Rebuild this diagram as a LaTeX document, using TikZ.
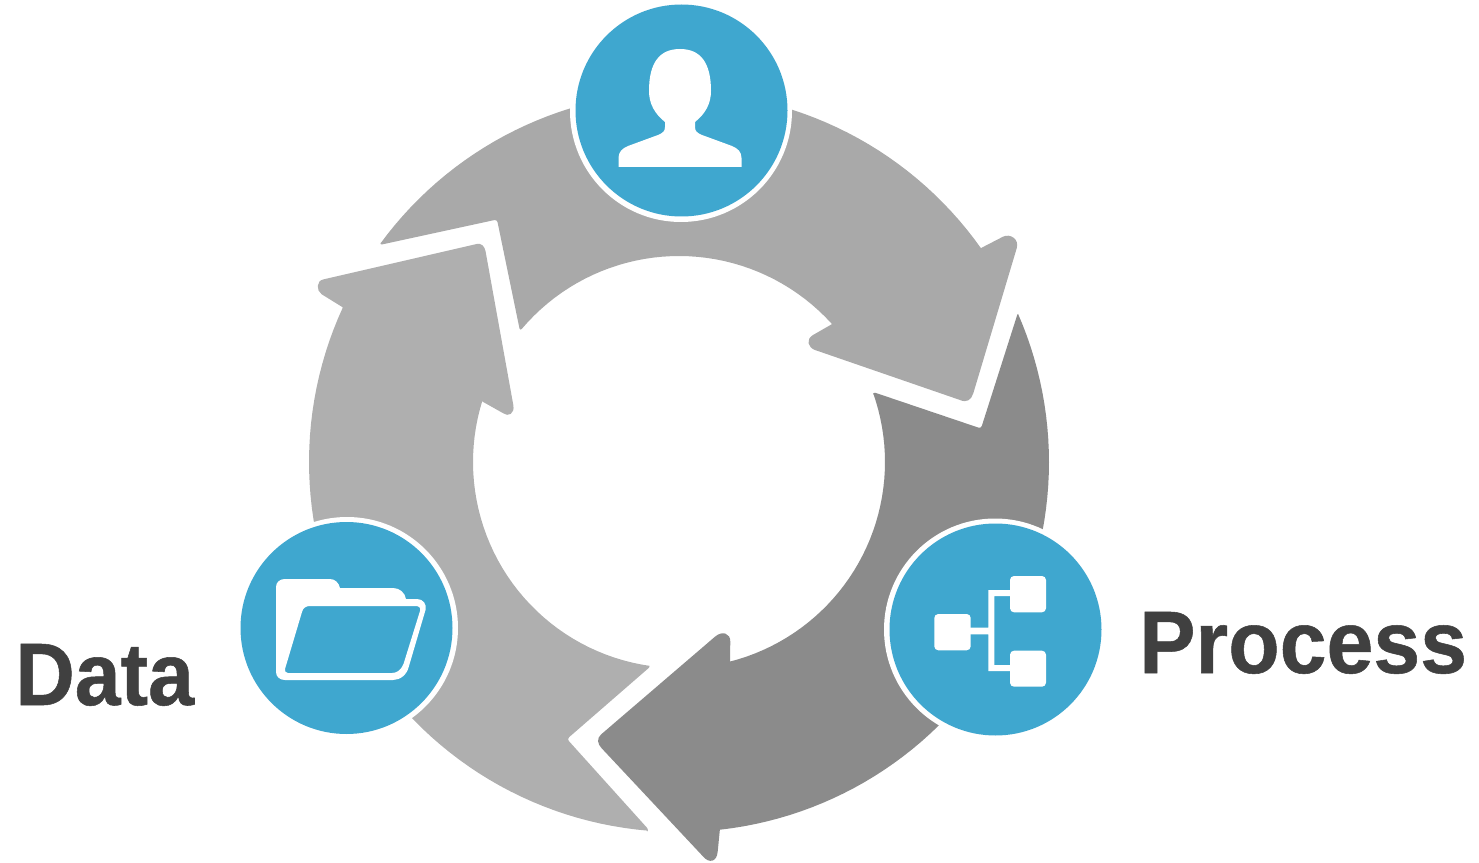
\documentclass[tikz,border=0pt]{standalone}
\usepackage{fontspec}
\setmainfont{Liberation Sans}
\definecolor{blueicon}{HTML}{3FA7CF}
\definecolor{arrowA}{HTML}{A9A9A9}
\definecolor{arrowB}{HTML}{8B8B8B}
\definecolor{arrowC}{HTML}{AFAFAF}
\definecolor{labeltext}{HTML}{404040}
\tikzset{
  ring/.style={circle,fill=white,minimum size=166.5pt,inner sep=0pt},
  disc/.style={circle,fill=blueicon,minimum size=159pt,inner sep=0pt},
  biglabel/.style={anchor=base west,inner sep=0pt,text=labeltext,font=\fontsize{66.5pt}{72pt}\selectfont\bfseries},
  icon/.style={fill=white,draw=none},
}
\begin{document}
\begin{tikzpicture}[x=0.75pt,y=-0.75pt]
\useasboundingbox (0,0) rectangle (1479,863);
% top arrow
\fill[arrowA]
  plot[domain=143.8:35.3,samples=60] ({679+370*cos(\x)},{462-370*sin(\x)})
  -- (981.7,247.7) -- (1003,236.7) .. controls (1010,233.2) and (1019.5,239) .. (1016.7,248.3)
  -- (973.3,393.3) .. controls (971,400) and (967,403) .. (960,400)
  -- (815,350) .. controls (808,347.5) and (805.5,339.5) .. (813,335) -- (831.7,324.3)
  -- plot[domain=42.3:139.7,samples=40] ({679+206*cos(\x)},{462-206*sin(\x)})
  [rounded corners=2pt] -- (520,331) -- (497,219.5) -- (379.5,245) [sharp corners] -- cycle;
% right arrow
\fill[arrowB]
  plot[domain=23.6:-83.6,samples=60] ({679+370*cos(\x)},{462-370*sin(\x)})
  -- (720,828.3) -- (717.7,851.5) .. controls (717,862) and (709,863.5) .. (703.3,856.7)
  -- (601.7,748.3) .. controls (597.5,744) and (596.5,738.5) .. (601,734.5)
  -- (715,636.7) .. controls (722,630.5) and (730.5,633) .. (730.3,641.7) -- (730,660.7)
  -- plot[domain=-75.6:19.5,samples=40] ({679+206*cos(\x)},{462-206*sin(\x)})
  [rounded corners=2pt] -- (873,392) -- (981,428.5) -- (1018,312.5) [sharp corners] -- cycle;
% left arrow
\fill[arrowC]
  plot[domain=265.2:155.4,samples=60] ({679+370*cos(\x)},{462-370*sin(\x)})
  -- (342.7,307.3) -- (321.7,294.3) .. controls (316,290.5) and (316.5,281) .. (323,279.5)
  -- (476.7,244) .. controls (481,243) and (484.5,246) .. (485.5,251)
  -- (513.3,405) .. controls (515,414) and (508,417) .. (503.3,413.3) -- (482.7,401.7)
  -- plot[domain=162.7:261.9,samples=40] ({679+206*cos(\x)},{462-206*sin(\x)})
  [rounded corners=2pt] -- (651,666) -- (567,739) -- (649,830) [sharp corners] -- cycle;
% discs
\node[ring] (ringT) at (681,111) {};
\node[disc] (discT) at (681.5,110.5) {};
\node[ring] (ringL) at (347,628) {};
\node[disc] (discL) at (346.5,628) {};
\node[ring] (ringR) at (995,629.5) {};
\node[disc] (discR) at (995.5,629.5) {};
% person
\fill[icon] (618.5,167) -- (618.5,158) .. controls (618.5,152) and (622,148.5) .. (628,146)
  -- (658,135) .. controls (663,133) and (665,131) .. (665,127) -- (665,122)
  .. controls (655,114) and (649,104) .. (649,91)
  .. controls (649,62) and (660,49) .. (680,49)
  .. controls (700,49) and (711,62) .. (711,91)
  .. controls (711,104) and (705,114) .. (695,122) -- (695,127)
  .. controls (695,131) and (697,133) .. (702,135)
  -- (732,146) .. controls (738,148.5) and (741.5,152) .. (741.5,158)
  -- (741.5,167) -- cycle;
% folder
\fill[icon,even odd rule]
  (276,587) .. controls (276,582) and (280,579) .. (285,579) -- (330,579)
  .. controls (335,579) and (339,583) .. (340,588) -- (393,588)
  .. controls (400,588) and (405,593) .. (406,599) -- (417,599)
  .. controls (423,599) and (427,604) .. (425.5,610) -- (409,666)
  .. controls (407,675) and (400,680) .. (393,680) -- (285,680)
  .. controls (280,680) and (276,677) .. (276,672) -- cycle
  (302,612) .. controls (303,608) and (306,606) .. (310,606) -- (416,606)
  .. controls (419,606) and (421,608) .. (420,611) -- (403.5,664)
  .. controls (401,670) and (397,673) .. (392,673) -- (288,673)
  .. controls (285.5,673) and (284.5,671) .. (285,669) -- cycle;
% process
\fill[icon,rounded corners=3pt] (934.3,614) rectangle (970.7,650.3);
\fill[icon,rounded corners=3pt] (1010,576) rectangle (1046,612.3);
\fill[icon,rounded corners=3pt] (1010,650.7) rectangle (1046,686.7);
\fill[icon] (968,627.7) -- (988.3,627.7) -- (988.3,590) -- (1012,590) -- (1012,596) -- (994.3,596)
  -- (994.3,665) -- (1012,665) -- (1012,671) -- (988.3,671) -- (988.3,634.3) -- (968,634.3) -- cycle;
% labels
\node[biglabel] (data) at (15,705) {\addfontfeature{FakeStretch=0.93,FakeBold=0.6}Data};
\node[biglabel] (proc) at (1139,673) {\addfontfeature{FakeStretch=0.95,FakeBold=0.6}Process};
\end{tikzpicture}
\end{document}
